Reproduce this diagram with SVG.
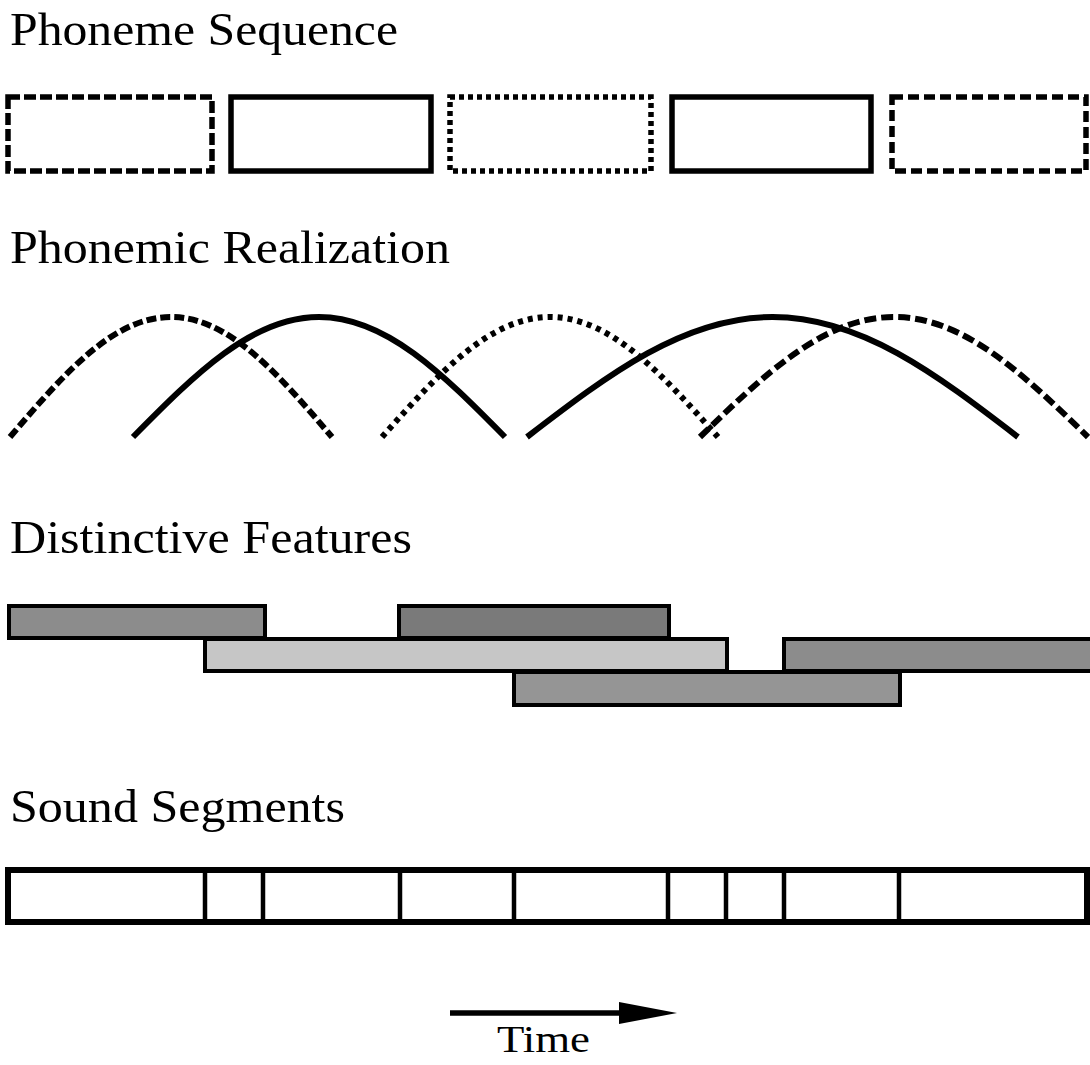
<svg xmlns="http://www.w3.org/2000/svg" width="1090" height="1065" viewBox="0 0 1090 1065">
  <style>
    .title { font-family: "Liberation Serif", "Times New Roman", serif; font-size: 47px; fill: #000; }
    .time { font-family: "Liberation Serif", "Times New Roman", serif; font-size: 38px; fill: #000; }
    .box { fill: none; stroke: #000; stroke-width: 5.5; }
    .arc { fill: none; stroke: #000; stroke-width: 6; }
    .bar { stroke: #000; stroke-width: 4; }
    .seg { fill: none; stroke: #000; stroke-width: 6; }
    .div { stroke: #000; stroke-width: 4.5; }
  </style>
  <rect width="1090" height="1065" fill="#fff"/>

  <g id="label-phoneme-sequence"><text class="title" x="10" y="45" textLength="388" lengthAdjust="spacingAndGlyphs">Phoneme Sequence</text></g>
  <g id="label-phonemic-realization"><text class="title" x="10" y="263" textLength="440" lengthAdjust="spacingAndGlyphs">Phonemic Realization</text></g>
  <g id="label-distinctive-features"><text class="title" x="10" y="553" textLength="402" lengthAdjust="spacingAndGlyphs">Distinctive Features</text></g>
  <g id="label-sound-segments"><text class="title" x="10" y="822" textLength="335" lengthAdjust="spacingAndGlyphs">Sound Segments</text></g>

  <g id="phoneme-sequence">
    <rect id="phoneme-1" class="box" x="8" y="97" width="204" height="74" stroke-dasharray="12 4"/>
    <rect id="phoneme-2" class="box" x="231" y="97" width="200" height="74"/>
    <rect id="phoneme-3" class="box" x="450" y="97" width="201" height="74" stroke-dasharray="5 4"/>
    <rect id="phoneme-4" class="box" x="672" y="97" width="199" height="74"/>
    <rect id="phoneme-5" class="box" x="892" y="97" width="194" height="74" stroke-dasharray="11 5"/>
  </g>

  <g id="phonemic-realization">
    <path id="arc-1" class="arc" stroke-dasharray="10 4" d="M10,437 C63.8,374 113,317 171,317 C229,317 278.2,374 332,437"/>
    <path id="arc-2" class="arc" d="M133,437 C195.2,374 252,317 319,317 C386,317 442.8,374 505,437"/>
    <path id="arc-3" class="arc" stroke-dasharray="5 5" d="M382,437 C438.1,374 489.5,317 550,317 C610.5,317 661.9,374 718,437"/>
    <path id="arc-4" class="arc" d="M527,437 C609,374 684.1,317 772.5,317 C860.9,317 936,374 1018,437"/>
    <path id="arc-5" class="arc" stroke-dasharray="12 5" d="M700,437 C764.8,374 824.2,317 894,317 C963.8,317 1023.2,374 1088,437"/>
  </g>

  <g id="distinctive-features">
    <rect id="feature-a" class="bar" x="9" y="606" width="256" height="32" fill="#8c8c8c"/>
    <rect id="feature-b" class="bar" x="399" y="606" width="270" height="32" fill="#7a7a7a"/>
    <rect id="feature-c" class="bar" x="205" y="639" width="522" height="32" fill="#c6c6c6"/>
    <rect id="feature-d" class="bar" x="784" y="639" width="310" height="32" fill="#8c8c8c"/>
    <rect id="feature-e" class="bar" x="514" y="672" width="386" height="33" fill="#959595"/>
  </g>

  <g id="sound-segments">
    <rect id="segments-frame" class="seg" x="8" y="870" width="1079" height="52"/>
    <line class="div" x1="205" y1="870" x2="205" y2="922"/>
    <line class="div" x1="263" y1="870" x2="263" y2="922"/>
    <line class="div" x1="400" y1="870" x2="400" y2="922"/>
    <line class="div" x1="514" y1="870" x2="514" y2="922"/>
    <line class="div" x1="668" y1="870" x2="668" y2="922"/>
    <line class="div" x1="726" y1="870" x2="726" y2="922"/>
    <line class="div" x1="784" y1="870" x2="784" y2="922"/>
    <line class="div" x1="899" y1="870" x2="899" y2="922"/>
  </g>

  <g id="connectors">
    <line id="time-arrow" x1="450" y1="1013" x2="622" y2="1013" stroke="#000" stroke-width="5.5"/>
    <path id="time-arrowhead" d="M619,1002 L677,1013 L619,1024 Z" fill="#000"/>
  </g>
  <g id="label-time"><text class="time" x="497" y="1052" textLength="93" lengthAdjust="spacingAndGlyphs">Time</text></g>
</svg>
